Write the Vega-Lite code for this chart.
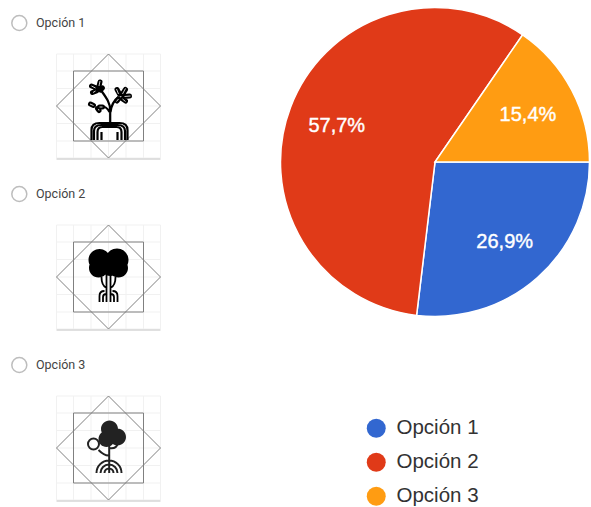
{
"$schema":"https://vega.github.io/schema/vega-lite/v6.json",
"width":591,"height":507,"padding":0,"autosize":{"type":"none"},"background":"white",
"config":{"view":{"stroke":null}},
"data":{"values":[
{"option":"Opción 1","pct":26.9,"label":"26,9%"},
{"option":"Opción 2","pct":57.7,"label":"57,7%"},
{"option":"Opción 3","pct":15.4,"label":"15,4%"}]},
"resolve":{"scale":{"y":"independent"}},
"encoding":{"x":{"datum":435,"type":"quantitative","scale":{"domain":[0,591],"nice":false,"zero":false},"axis":null}},
"layer":[
{"mark":{"type":"arc","outerRadius":154.5,"stroke":"white","strokeWidth":1.5},
 "encoding":{"y":{"datum":162,"type":"quantitative","scale":{"domain":[507,0],"nice":false,"zero":false},"axis":null},
  "theta":{"field":"pct","type":"quantitative","stack":true,"scale":{"range":[1.5708,7.854]}},
  "color":{"field":"option","type":"nominal","scale":{"domain":["Opción 1","Opción 2","Opción 3"],"range":["#3267D0","#E03A18","#FF9C12"]},
   "legend":{"title":null,"orient":"none","legendX":366,"legendY":418,"symbolType":"circle","symbolSize":360,"symbolStrokeWidth":0,"labelFont":"Liberation Sans","labelFontSize":20.5,"labelColor":"#333333","rowPadding":13,"labelOffset":10}},
  "order":{"field":"option"}}},
{"mark":{"type":"text","radius":105,"dy":1.5,"font":"Liberation Sans","fontSize":20,"fill":"white","stroke":"white","strokeWidth":0.4,"align":"center","baseline":"middle"},
 "encoding":{"y":{"datum":162,"type":"quantitative","scale":{"domain":[507,0],"nice":false,"zero":false},"axis":null},
  "theta":{"field":"pct","type":"quantitative","stack":true,"scale":{"range":[1.5708,7.854]}},
  "detail":{"field":"option"},"order":{"field":"option"},
  "text":{"field":"label"}}},
{"encoding":{"y":{"field":"option","type":"nominal","scale":{"type":"point","padding":0,"domain":["Opción 1","Opción 2","Opción 3"],"range":[23,365]},"axis":null}},
 "layer":[
 {"mark":{"type":"point","shape":"circle","size":225,"stroke":"#bdbdbd","strokeWidth":1.5,"opacity":1},
  "encoding":{"x":{"datum":19.3,"type":"quantitative"}}},
 {"mark":{"type":"text","align":"left","baseline":"middle","font":"Roboto","fontSize":12.5,"fill":"#444444"},
  "encoding":{"x":{"datum":36,"type":"quantitative"},"text":{"field":"option"}}},
 {"mark":{"type":"point","size":4,"yOffset":83,"opacity":1,"strokeWidth":1,"stroke":"#f1f1f1","shape":"M-35 -52V52M-17.5 -52V52M0 -52V52M17.5 -52V52M35 -52V52M-52 -35H52M-52 -17.5H52M-52 0H52M-52 17.5H52M-52 35H52M-52 -52H52V52H-52Z"},
  "encoding":{"x":{"datum":108.5,"type":"quantitative"}}},
 {"mark":{"type":"point","size":4,"yOffset":83,"opacity":1,"strokeWidth":1.5,"stroke":"#d6d6d6","shape":"M-52 53H52"},
  "encoding":{"x":{"datum":108.5,"type":"quantitative"}}},
 {"mark":{"type":"point","size":4,"yOffset":83,"opacity":1,"strokeWidth":1,"stroke":"#808080","shape":"M-35 -35H35V35H-35ZM0 -52L52 0L0 52L-52 0Z"},
  "encoding":{"x":{"datum":108.5,"type":"quantitative"}}},
 {"transform":[{"filter":"datum.option==='Opción 1'"}],
  "mark":{"type":"point","size":4,"yOffset":83,"opacity":1,"strokeWidth":2.2,"stroke":"#000000","shape":"M1.7 16V4C1.7 -3 -2 -8 -7 -15M1 6C-1 2 -4 0 -8 0M2 6C3 -2 6 -6 10 -9M-17 34V24Q-17 17 -9 17H11Q19 17 19 24V34M-14.5 34V25Q-14.5 19 -7 19H9Q16.5 19 16.5 25V34M-11 34V26Q-11 21 -6 21H8Q13 21 13 26V34M-7 34V26M9 34V26"},
  "encoding":{"x":{"datum":108.5,"type":"quantitative"}}},
 {"transform":[{"filter":"datum.option==='Opción 1'"}],
  "mark":{"type":"point","size":4,"yOffset":83,"opacity":1,"strokeWidth":5,"strokeCap":"round","stroke":"#000000","shape":"M-10 -18L-8.5 -24M-12 -18L-17 -20M-12 -15L-16 -13.5M-8 -16L-6 -18M-15 -0.5L-18 -2M-11 2.5L-9.5 4.5M-9 1L-6 1M11 -12L8.5 -16.5M14 -12L17 -16.5M16 -9.5L21 -10M14 -7L17 -5M10 -7L8.5 -5"},
  "encoding":{"x":{"datum":108.5,"type":"quantitative"}}},
 {"transform":[{"filter":"datum.option==='Opción 1'"}],
  "mark":{"type":"point","size":4,"yOffset":83,"opacity":1,"strokeWidth":0.8,"stroke":"#ffffff","shape":"M-9.5 -20L-8.5 -25M-13 -18L-17 -20M-13 -15L-15.5 -13.5M-15 -0.5L-18.5 -2M-10 3L-9.5 4.5M-9 1L-6 1M10 -12L8 -17M14 -12L17 -17.5M16 -9.5L22 -10M14 -7L17 -4.5M10 -7L8 -4.5"},
  "encoding":{"x":{"datum":108.5,"type":"quantitative"}}},
 {"transform":[{"filter":"datum.option==='Opción 2'"}],
  "mark":{"type":"point","size":4,"yOffset":83,"opacity":1,"filled":true,"fill":"#000000","shape":"M-20 -17a11 11 0 1 0 22 0a11 11 0 1 0 -22 0M-3 -17a11.5 11.5 0 1 0 23 0a11.5 11.5 0 1 0 -23 0M0.5 -9a9.5 9.5 0 1 0 19 0a9.5 9.5 0 1 0 -19 0M-19.5 -9a9.5 9.5 0 1 0 19 0a9.5 9.5 0 1 0 -19 0M-9 -12a11 11 0 1 0 22 0a11 11 0 1 0 -22 0"},
  "encoding":{"x":{"datum":108.5,"type":"quantitative"}}},
 {"transform":[{"filter":"datum.option==='Opción 2'"}],
  "mark":{"type":"point","size":4,"yOffset":83,"opacity":1,"strokeWidth":1.8,"stroke":"#000000","shape":"M-2 -2V25M2 -2V25M-7 0C-7 8 -4 10 -2 11M7 0C7 8 4 10 2 11M-9 25V19Q-9 14 -4 14M9 25V19Q9 14 4 14M-5.5 25V20Q-5.5 17 -2 17M5.5 25V20Q5.5 17 2 17"},
  "encoding":{"x":{"datum":108.5,"type":"quantitative"}}},
 {"transform":[{"filter":"datum.option==='Opción 3'"}],
  "mark":{"type":"point","size":4,"yOffset":83,"opacity":1,"filled":true,"fill":"#222222","shape":"M-7.5 -19a8.5 8.5 0 1 0 17 0a8.5 8.5 0 1 0 -17 0M-10 -9a8 8 0 1 0 16 0a8 8 0 1 0 -16 0M0.5 -11a8.5 8.5 0 1 0 17 0a8.5 8.5 0 1 0 -17 0M-3 -12a6 6 0 1 0 12 0a6 6 0 1 0 -12 0"},
  "encoding":{"x":{"datum":108.5,"type":"quantitative"}}},
 {"transform":[{"filter":"datum.option==='Opción 3'"}],
  "mark":{"type":"point","size":4,"yOffset":83,"opacity":1,"strokeWidth":2,"stroke":"#222222","shape":"M0.7 -4V25M-10 2Q-4 8 0.7 7.5M0.7 0Q8 1 9 -4M-12 25A12.5 12.5 0 0 1 13 25M-8 25A8.5 8.5 0 0 1 9 25M-4 25A4.5 4.5 0 0 1 5 25M-20.5 -4a5.5 5.5 0 1 0 11 0a5.5 5.5 0 1 0 -11 0"},
  "encoding":{"x":{"datum":108.5,"type":"quantitative"}}}
 ]}
]}
